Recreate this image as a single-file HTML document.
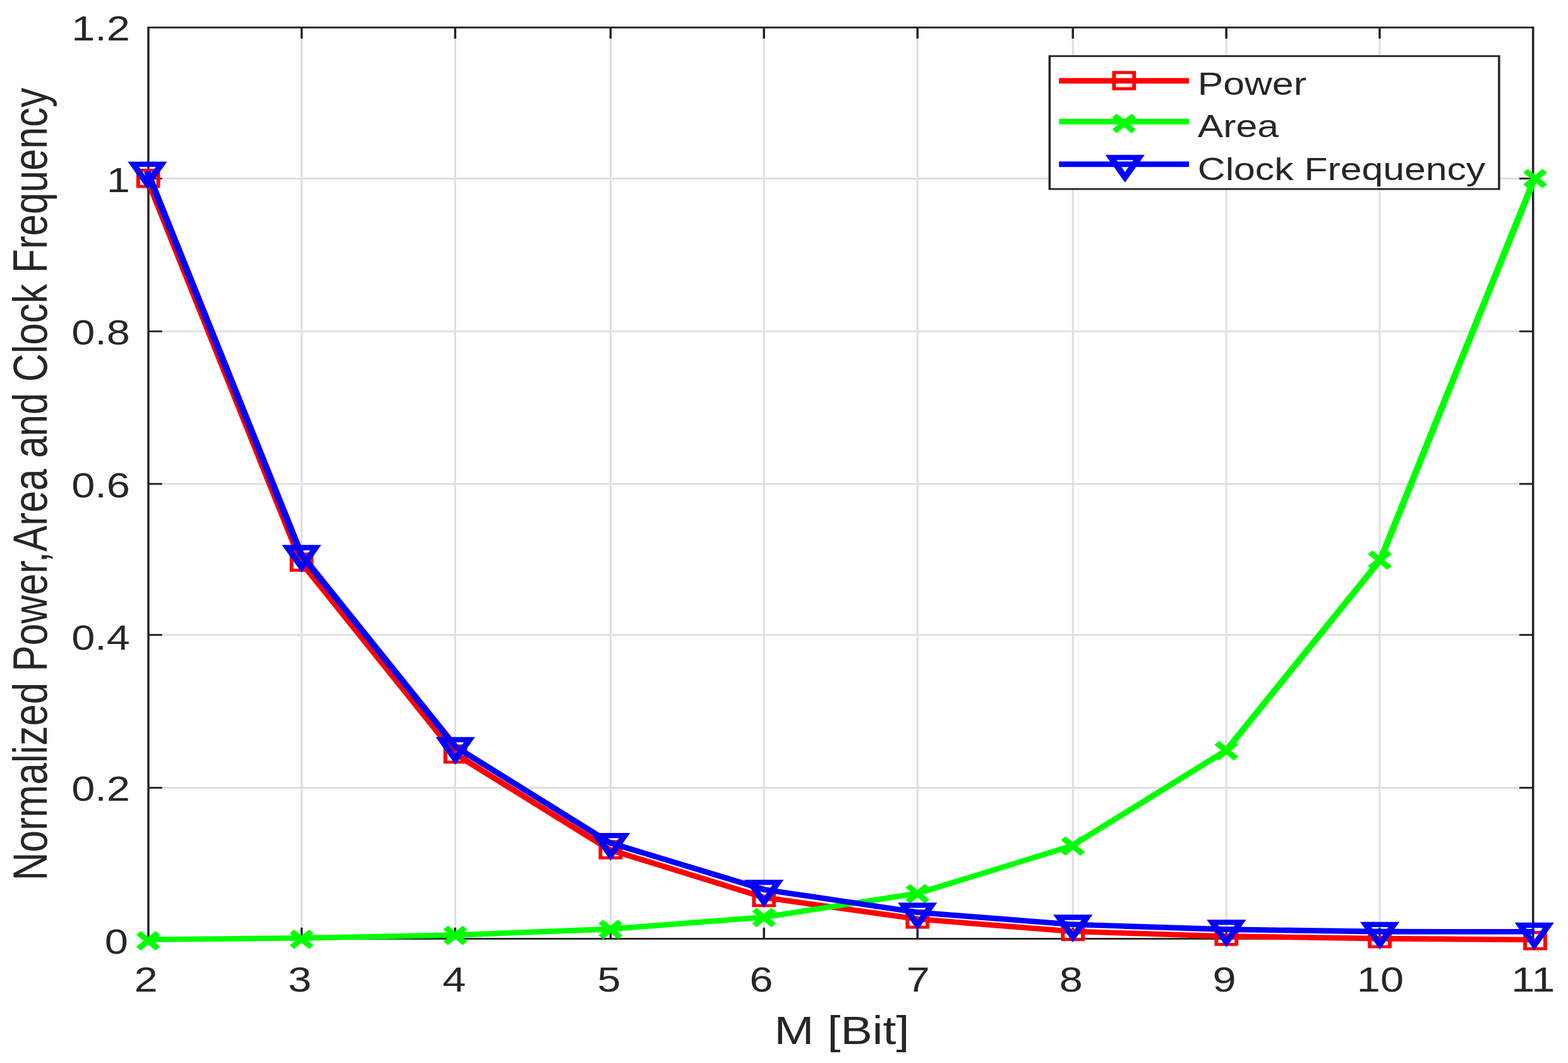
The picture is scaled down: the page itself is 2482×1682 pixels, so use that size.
<!DOCTYPE html>
<html lang="en"><head><meta charset="utf-8"><title>Normalized Power, Area and Clock Frequency vs M</title>
<style>html,body{margin:0;padding:0;background:#fff;}body{width:2482px;height:1682px;overflow:hidden;}svg{display:block;filter:blur(0.6px);}text{font-family:"Liberation Sans",sans-serif;fill:#262626;}</style></head><body>
<svg width="2482" height="1682" viewBox="0 0 2482 1682" role="img" aria-label="Line chart of normalized power, area and clock frequency versus M in bits">
<rect x="0" y="0" width="2482" height="1682" fill="#fff"/>
<g transform="scale(1.2370 1)">
<g stroke="#dfdfdf" stroke-width="2.80" fill="none">
<line x1="386.01" y1="43.50" x2="386.01" y2="1485.40" stroke-width="2.43"/>
<line x1="582.46" y1="43.50" x2="582.46" y2="1485.40" stroke-width="2.43"/>
<line x1="781.33" y1="43.50" x2="781.33" y2="1485.40" stroke-width="2.43"/>
<line x1="977.61" y1="43.50" x2="977.61" y2="1485.40" stroke-width="2.43"/>
<line x1="1174.05" y1="43.50" x2="1174.05" y2="1485.40" stroke-width="2.43"/>
<line x1="1372.92" y1="43.50" x2="1372.92" y2="1485.40" stroke-width="2.43"/>
<line x1="1569.20" y1="43.50" x2="1569.20" y2="1485.40" stroke-width="2.43"/>
<line x1="1765.48" y1="43.50" x2="1765.48" y2="1485.40" stroke-width="2.43"/>
<line x1="189.89" y1="1246.50" x2="1961.76" y2="1246.50"/>
<line x1="189.89" y1="1004.60" x2="1961.76" y2="1004.60"/>
<line x1="189.89" y1="765.70" x2="1961.76" y2="765.70"/>
<line x1="189.89" y1="524.30" x2="1961.76" y2="524.30"/>
<line x1="189.89" y1="282.50" x2="1961.76" y2="282.50"/>
</g>
<g stroke="#222222" stroke-width="2.80" fill="none" stroke-linecap="butt">
<rect x="189.89" y="43.50" width="1771.87" height="1441.90"/>
<line x1="386.01" y1="1485.40" x2="386.01" y2="1467.80"/>
<line x1="386.01" y1="43.50" x2="386.01" y2="61.10"/>
<line x1="582.46" y1="1485.40" x2="582.46" y2="1467.80"/>
<line x1="582.46" y1="43.50" x2="582.46" y2="61.10"/>
<line x1="781.33" y1="1485.40" x2="781.33" y2="1467.80"/>
<line x1="781.33" y1="43.50" x2="781.33" y2="61.10"/>
<line x1="977.61" y1="1485.40" x2="977.61" y2="1467.80"/>
<line x1="977.61" y1="43.50" x2="977.61" y2="61.10"/>
<line x1="1174.05" y1="1485.40" x2="1174.05" y2="1467.80"/>
<line x1="1174.05" y1="43.50" x2="1174.05" y2="61.10"/>
<line x1="1372.92" y1="1485.40" x2="1372.92" y2="1467.80"/>
<line x1="1372.92" y1="43.50" x2="1372.92" y2="61.10"/>
<line x1="1569.20" y1="1485.40" x2="1569.20" y2="1467.80"/>
<line x1="1569.20" y1="43.50" x2="1569.20" y2="61.10"/>
<line x1="1765.48" y1="1485.40" x2="1765.48" y2="1467.80"/>
<line x1="1765.48" y1="43.50" x2="1765.48" y2="61.10"/>
<line x1="189.89" y1="1246.50" x2="207.49" y2="1246.50"/>
<line x1="1961.76" y1="1246.50" x2="1944.16" y2="1246.50"/>
<line x1="189.89" y1="1004.60" x2="207.49" y2="1004.60"/>
<line x1="1961.76" y1="1004.60" x2="1944.16" y2="1004.60"/>
<line x1="189.89" y1="765.70" x2="207.49" y2="765.70"/>
<line x1="1961.76" y1="765.70" x2="1944.16" y2="765.70"/>
<line x1="189.89" y1="524.30" x2="207.49" y2="524.30"/>
<line x1="1961.76" y1="524.30" x2="1944.16" y2="524.30"/>
<line x1="189.89" y1="282.50" x2="207.49" y2="282.50"/>
<line x1="1961.76" y1="282.50" x2="1944.16" y2="282.50"/>
</g>
<g id="series-power">
<polyline points="188.36,282.20 385.61,889.50 582.86,1193.10 780.11,1344.50 977.36,1420.10 1174.62,1454.30 1371.87,1473.80 1569.12,1481.50 1766.37,1485.10 1963.62,1487.00" fill="none" stroke="#ff0000" stroke-width="8.60" stroke-linejoin="round"/>
<rect x="176.80" y="269.35" width="25.70" height="25.70" fill="none" stroke="#ff0000" stroke-width="4.80"/>
<rect x="373.08" y="876.65" width="25.70" height="25.70" fill="none" stroke="#ff0000" stroke-width="4.80"/>
<rect x="569.85" y="1180.25" width="25.70" height="25.70" fill="none" stroke="#ff0000" stroke-width="4.80"/>
<rect x="768.39" y="1331.65" width="25.70" height="25.70" fill="none" stroke="#ff0000" stroke-width="4.80"/>
<rect x="964.76" y="1407.25" width="25.70" height="25.70" fill="none" stroke="#ff0000" stroke-width="4.80"/>
<rect x="1161.20" y="1441.45" width="25.70" height="25.70" fill="none" stroke="#ff0000" stroke-width="4.80"/>
<rect x="1360.07" y="1460.95" width="25.70" height="25.70" fill="none" stroke="#ff0000" stroke-width="4.80"/>
<rect x="1556.51" y="1468.65" width="25.70" height="25.70" fill="none" stroke="#ff0000" stroke-width="4.80"/>
<rect x="1752.79" y="1472.25" width="25.70" height="25.70" fill="none" stroke="#ff0000" stroke-width="4.80"/>
<rect x="1951.58" y="1475.45" width="25.70" height="25.70" fill="none" stroke="#ff0000" stroke-width="4.80"/>
</g>
<g id="series-area">
<polyline points="188.36,1486.64 385.61,1484.29 582.86,1479.57 780.11,1470.15 977.36,1451.30 1174.62,1413.59 1371.87,1338.19 1569.12,1187.38 1766.37,885.75 1963.62,282.50" fill="none" stroke="#00ff00" stroke-width="8.60" stroke-linejoin="round"/>
<path d="M177.25 1476.24L202.05 1501.04M177.25 1501.04L202.05 1476.24" fill="none" stroke="#00ff00" stroke-width="8.30"/>
<path d="M373.53 1473.89L398.33 1498.69M373.53 1498.69L398.33 1473.89" fill="none" stroke="#00ff00" stroke-width="8.30"/>
<path d="M570.30 1467.67L595.10 1492.47M570.30 1492.47L595.10 1467.67" fill="none" stroke="#00ff00" stroke-width="8.30"/>
<path d="M768.84 1458.25L793.64 1483.05M768.84 1483.05L793.64 1458.25" fill="none" stroke="#00ff00" stroke-width="8.30"/>
<path d="M965.21 1439.40L990.01 1464.20M965.21 1464.20L990.01 1439.40" fill="none" stroke="#00ff00" stroke-width="8.30"/>
<path d="M1161.65 1401.69L1186.45 1426.49M1161.65 1426.49L1186.45 1401.69" fill="none" stroke="#00ff00" stroke-width="8.30"/>
<path d="M1360.52 1326.29L1385.32 1351.09M1360.52 1351.09L1385.32 1326.29" fill="none" stroke="#00ff00" stroke-width="8.30"/>
<path d="M1556.96 1175.47L1581.76 1200.28M1556.96 1200.28L1581.76 1175.47" fill="none" stroke="#00ff00" stroke-width="8.30"/>
<path d="M1753.24 873.85L1778.04 898.65M1753.24 898.65L1778.04 873.85" fill="none" stroke="#00ff00" stroke-width="8.30"/>
<path d="M1952.03 270.10L1976.83 294.90M1952.03 294.90L1976.83 270.10" fill="none" stroke="#00ff00" stroke-width="8.30"/>
</g>
<g id="series-clock">
<polyline points="188.36,271.10 385.61,877.80 582.86,1181.60 780.11,1333.40 977.36,1407.40 1174.62,1443.70 1371.87,1462.80 1569.12,1470.60 1766.37,1474.10 1963.62,1474.30" fill="none" stroke="#0000ff" stroke-width="8.60" stroke-linejoin="round"/>
<path d="M170.60 259.80L206.60 259.80L188.60 291.10Z" fill="none" stroke="#0000ff" stroke-width="8.30" stroke-linejoin="miter"/>
<path d="M367.93 866.50L403.93 866.50L385.93 897.80Z" fill="none" stroke="#0000ff" stroke-width="8.30" stroke-linejoin="miter"/>
<path d="M564.70 1170.30L600.70 1170.30L582.70 1201.60Z" fill="none" stroke="#0000ff" stroke-width="8.30" stroke-linejoin="miter"/>
<path d="M763.24 1322.10L799.24 1322.10L781.24 1353.40Z" fill="none" stroke="#0000ff" stroke-width="8.30" stroke-linejoin="miter"/>
<path d="M959.61 1396.10L995.61 1396.10L977.61 1427.40Z" fill="none" stroke="#0000ff" stroke-width="8.30" stroke-linejoin="miter"/>
<path d="M1156.05 1432.40L1192.05 1432.40L1174.05 1463.70Z" fill="none" stroke="#0000ff" stroke-width="8.30" stroke-linejoin="miter"/>
<path d="M1354.92 1451.50L1390.92 1451.50L1372.92 1482.80Z" fill="none" stroke="#0000ff" stroke-width="8.30" stroke-linejoin="miter"/>
<path d="M1551.36 1459.30L1587.36 1459.30L1569.36 1490.60Z" fill="none" stroke="#0000ff" stroke-width="8.30" stroke-linejoin="miter"/>
<path d="M1747.64 1462.80L1783.64 1462.80L1765.64 1494.10Z" fill="none" stroke="#0000ff" stroke-width="8.30" stroke-linejoin="miter"/>
<path d="M1945.38 1464.00L1981.38 1464.00L1963.38 1495.30Z" fill="none" stroke="#0000ff" stroke-width="8.30" stroke-linejoin="miter"/>
</g>
<g id="legend">
<rect x="1343.09" y="88.80" width="575.18" height="210.30" fill="#fff" stroke="#222222" stroke-width="2.80"/>
<line x1="1355.13" y1="127.90" x2="1521.42" y2="127.90" stroke="#ff0000" stroke-width="8.60"/>
<rect x="1425.55" y="114.75" width="25.70" height="25.70" fill="none" stroke="#ff0000" stroke-width="4.80"/>
<line x1="1355.13" y1="192.40" x2="1521.42" y2="192.40" stroke="#00ff00" stroke-width="8.60"/>
<path d="M1426.00 183.00L1450.80 207.80M1426.00 207.80L1450.80 183.00" fill="none" stroke="#00ff00" stroke-width="8.30"/>
<line x1="1355.13" y1="259.90" x2="1521.42" y2="259.90" stroke="#0000ff" stroke-width="8.60"/>
<path d="M1421.61 249.20L1457.61 249.20L1439.61 280.50Z" fill="none" stroke="#0000ff" stroke-width="8.30" stroke-linejoin="miter"/>
</g>
</g>
<g id="xticklabels">
<text transform="translate(230.90 1568.80) scale(1.2000 1.0000)" font-size="55.50" text-anchor="middle">2</text>
<text transform="translate(474.50 1568.80) scale(1.2000 1.0000)" font-size="55.50" text-anchor="middle">3</text>
<text transform="translate(719.00 1568.80) scale(1.2000 1.0000)" font-size="55.50" text-anchor="middle">4</text>
<text transform="translate(964.10 1568.80) scale(1.2000 1.0000)" font-size="55.50" text-anchor="middle">5</text>
<text transform="translate(1205.00 1568.80) scale(1.2000 1.0000)" font-size="55.50" text-anchor="middle">6</text>
<text transform="translate(1453.30 1568.80) scale(1.2000 1.0000)" font-size="55.50" text-anchor="middle">7</text>
<text transform="translate(1695.30 1568.80) scale(1.2000 1.0000)" font-size="55.50" text-anchor="middle">8</text>
<text transform="translate(1937.90 1568.80) scale(1.2000 1.0000)" font-size="55.50" text-anchor="middle">9</text>
<text transform="translate(2184.90 1568.80) scale(1.2000 1.0000)" font-size="55.50" text-anchor="middle">10</text>
<text transform="translate(2426.70 1568.80) scale(1.2000 1.0000)" font-size="55.50" text-anchor="middle">11</text>
</g>
<g id="yticklabels">
<text transform="translate(202.80 1508.70) scale(1.2000 1.0000)" font-size="55.50" text-anchor="end">0</text>
<text transform="translate(205.80 1266.80) scale(1.2000 1.0000)" font-size="55.50" text-anchor="end">0.2</text>
<text transform="translate(205.80 1027.90) scale(1.2000 1.0000)" font-size="55.50" text-anchor="end">0.4</text>
<text transform="translate(205.80 786.50) scale(1.2000 1.0000)" font-size="55.50" text-anchor="end">0.6</text>
<text transform="translate(205.80 544.90) scale(1.2000 1.0000)" font-size="55.50" text-anchor="end">0.8</text>
<text transform="translate(205.80 304.30) scale(1.2000 1.0000)" font-size="55.50" text-anchor="end">1</text>
<text transform="translate(205.80 63.80) scale(1.2000 1.0000)" font-size="55.50" text-anchor="end">1.2</text>
</g>
<text transform="translate(1332.50 1652.30) scale(1.2090 1.0000)" font-size="62.50" text-anchor="middle">M [Bit]</text>
<text transform="translate(74.30 766.20) rotate(-90) scale(0.9906 1.2250)" font-size="62.60" text-anchor="middle">Normalized Power,Area and Clock Frequency</text>
<g id="legendlabels">
<text transform="translate(1895.80 149.60) scale(1.2070 1.0000)" font-size="50.30" text-anchor="start">Power</text>
<text transform="translate(1895.80 216.80) scale(1.2070 1.0000)" font-size="50.30" text-anchor="start">Area</text>
<text transform="translate(1895.80 284.90) scale(1.2070 1.0000)" font-size="50.30" text-anchor="start">Clock Frequency</text>
</g>
</svg></body></html>
